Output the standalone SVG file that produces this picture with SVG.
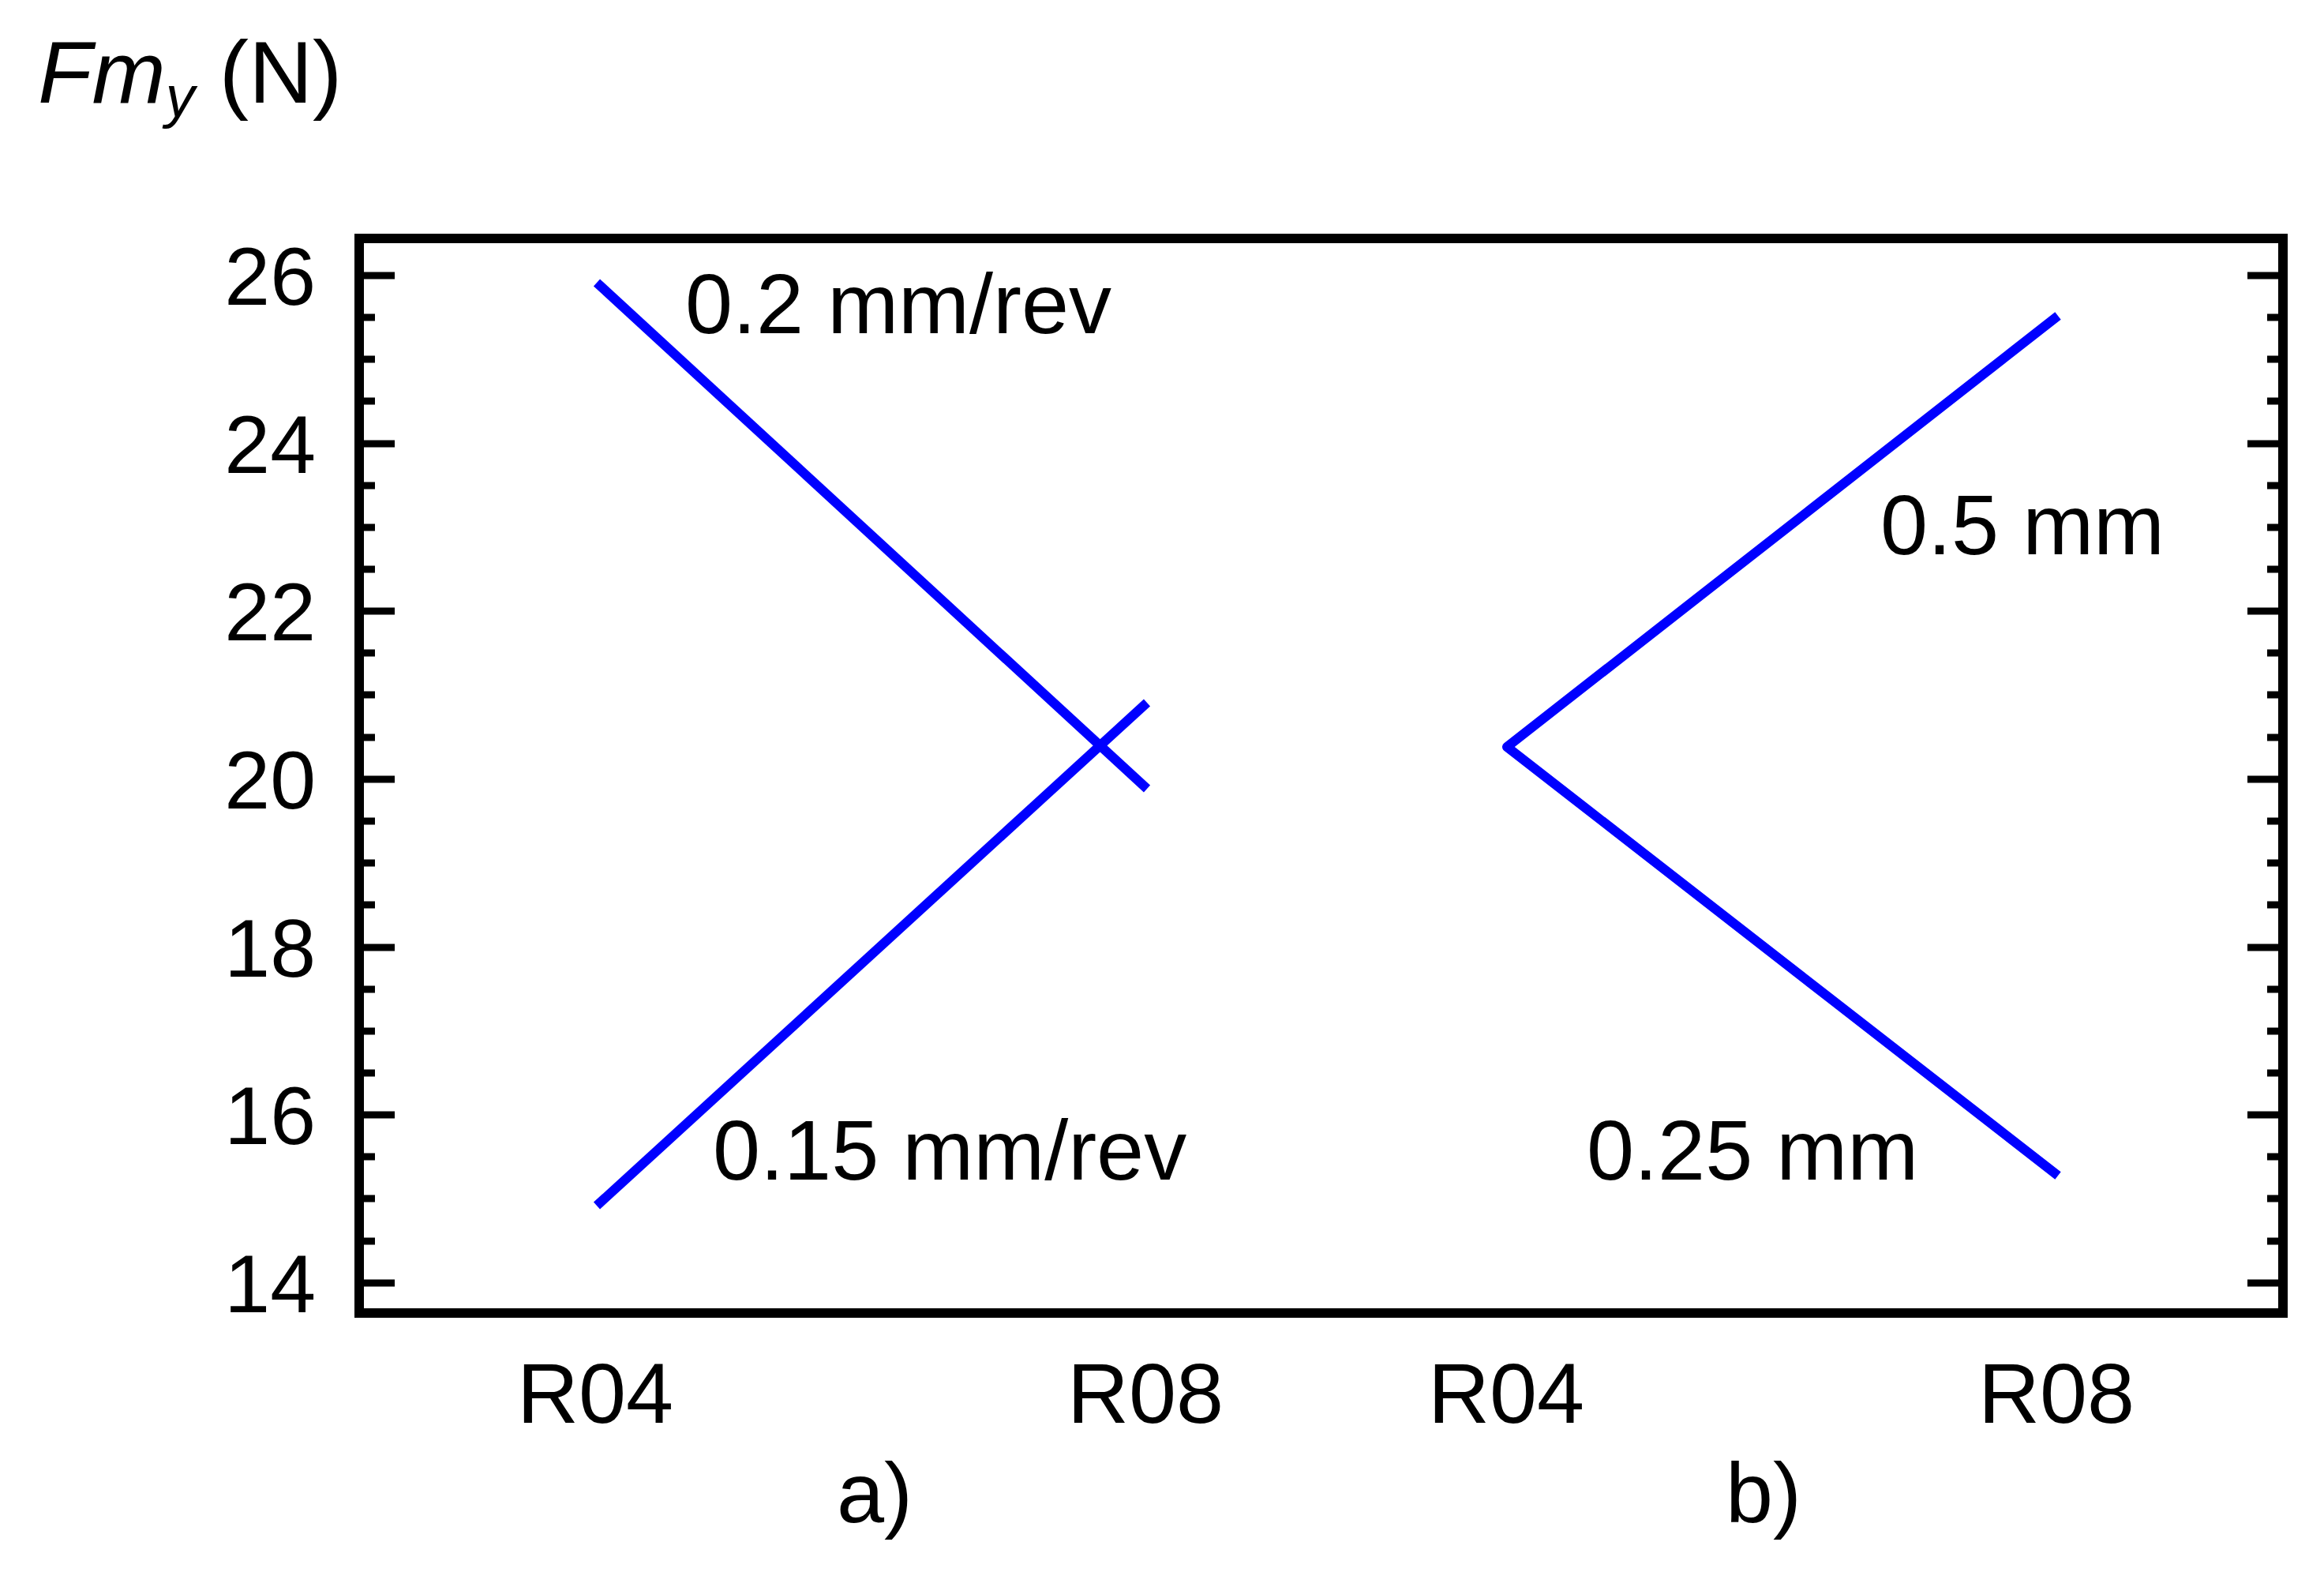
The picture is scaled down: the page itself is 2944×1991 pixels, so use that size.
<svg xmlns="http://www.w3.org/2000/svg" width="2944" height="1991" viewBox="0 0 2944 1991">
<style>
text{font-family:"Liberation Sans",Arial,sans-serif;fill:#000}
.t{font-size:104px;text-anchor:end}
.l{font-size:108px}
.x{font-size:108px;text-anchor:middle}
.c{fill:none;stroke:#0000ff;stroke-width:12;stroke-linejoin:round}
.k{stroke:#000;stroke-width:9}
</style>
<rect width="2944" height="1991" fill="#fff"/>
<g id="frame">
<rect x="455" y="302" width="2437" height="1361" fill="none" stroke="#000" stroke-width="12"/>
<path class="k" d="M455 349h45M455 562h45M455 774h45M455 987h45M455 1200h45M455 1412h45M455 1625h45M2892 349h-45M2892 562h-45M2892 774h-45M2892 987h-45M2892 1200h-45M2892 1412h-45M2892 1625h-45"/>
<path class="k" d="M455 402h20M455 455h20M455 508h20M455 615h20M455 668h20M455 721h20M455 827h20M455 880h20M455 934h20M455 1040h20M455 1093h20M455 1146h20M455 1253h20M455 1306h20M455 1359h20M455 1465h20M455 1518h20M455 1572h20M2892 402h-20M2892 455h-20M2892 508h-20M2892 615h-20M2892 668h-20M2892 721h-20M2892 827h-20M2892 880h-20M2892 934h-20M2892 1040h-20M2892 1093h-20M2892 1146h-20M2892 1253h-20M2892 1306h-20M2892 1359h-20M2892 1465h-20M2892 1518h-20M2892 1572h-20"/>
</g>
<g id="yticks">
<text class="t" x="400" y="386">26</text>
<text class="t" x="400" y="599">24</text>
<text class="t" x="400" y="811">22</text>
<text class="t" x="400" y="1024">20</text>
<text class="t" x="400" y="1237">18</text>
<text class="t" x="400" y="1449">16</text>
<text class="t" x="400" y="1662">14</text>
</g>
<g id="ylabel"><text x="48" y="130" style="font-size:112px"><tspan font-style="italic">Fm</tspan><tspan font-style="italic" font-size="74" dy="18">y</tspan><tspan dy="-18"> (N)</tspan></text></g>
<g id="connectors">
<path class="c" d="M756 358L1453 999"/>
<path class="c" d="M756 1527L1453 890"/>
<path class="c" d="M2607 400L1909 946L2607 1489"/>
</g>
<g id="labels">
<text class="l" x="868" y="422">0.2 mm/rev</text>
<text class="l" x="903" y="1494">0.15 mm/rev</text>
<text class="l" x="2382" y="702">0.5 mm</text>
<text class="l" x="2010" y="1494">0.25 mm</text>
</g>
<g id="xticks">
<text class="x" x="754" y="1802">R04</text>
<text class="x" x="1451" y="1802">R08</text>
<text class="x" x="1908" y="1802">R04</text>
<text class="x" x="2605" y="1802">R08</text>
<text class="x" x="1108" y="1928">a)</text>
<text class="x" x="2234" y="1928">b)</text>
</g>
</svg>
